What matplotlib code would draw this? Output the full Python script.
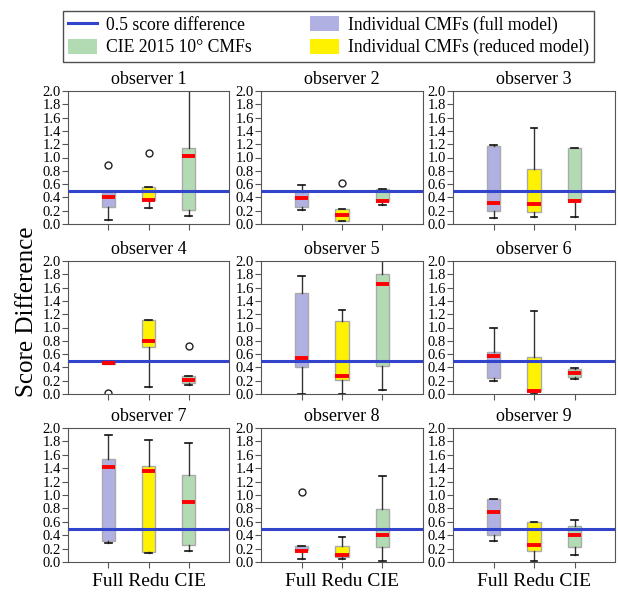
import matplotlib
matplotlib.use("Agg")
import matplotlib.pyplot as plt
from matplotlib.patches import Patch
from matplotlib.lines import Line2D

plt.rcParams['font.family'] = ['Liberation Serif', 'DejaVu Serif']

observers = [f"observer {i}" for i in range(1, 10)]
models = ["Full", "Redu", "CIE"]

# per observer: [Full, Redu, CIE]
q1 = [[0.25, 0.36, 0.21], [0.25, 0.04, 0.35], [0.19, 0.18, 0.35],
      [0.45, 0.70, 0.16], [0.41, 0.21, 0.42], [0.24, 0.05, 0.26],
      [0.32, 0.15, 0.26], [0.18, 0.07, 0.23], [0.40, 0.16, 0.23]]
med = [[0.41, 0.36, 1.02], [0.39, 0.14, 0.35], [0.32, 0.30, 0.34],
       [0.47, 0.79, 0.21], [0.54, 0.27, 1.65], [0.57, 0.05, 0.31],
       [1.42, 1.36, 0.89], [0.17, 0.10, 0.40], [0.75, 0.25, 0.40]]
q3 = [[0.48, 0.56, 1.15], [0.48, 0.22, 0.52], [1.18, 0.82, 1.15],
      [0.48, 1.12, 0.27], [1.52, 1.10, 1.81], [0.63, 0.55, 0.38],
      [1.54, 1.43, 1.30], [0.24, 0.24, 0.79], [0.94, 0.59, 0.54]]
whislo = [[0.06, 0.24, 0.12], [0.21, 0.04, 0.29], [0.09, 0.10, 0.10],
          [0.45, 0.10, 0.13], [0.00, 0.00, 0.06], [0.20, 0.00, 0.22],
          [0.28, 0.14, 0.16], [0.04, 0.04, 0.02], [0.31, 0.02, 0.10]]
whishi = [[0.48, 0.56, 2.10], [0.59, 0.22, 0.52], [1.19, 1.44, 1.15],
          [0.48, 1.12, 0.27], [1.77, 1.27, 2.10], [1.00, 1.25, 0.39],
          [1.89, 1.82, 1.77], [0.24, 0.37, 1.28], [0.94, 0.59, 0.62]]
fliers = [[[0.89], [1.07], []], [[], [0.61], []], [[], [], []],
          [[0.02], [], [0.72]], [[], [], []], [[], [], []],
          [[], [], []], [[1.04], [], []], [[], [], []]]

threshold = 0.5
box_colors = ["#b0b0e2", "#fff200", "#b3dbb3"]
line_color = "#3344cc"

fig = plt.figure(figsize=(6.18, 5.94), dpi=100)
W, H = 618, 594
col_x = [(68, 229), (261, 423), (453, 615)]
row_y = [(91, 224), (261, 394), (428, 562)]

for i in range(9):
    r, c = divmod(i, 3)
    x0, x1 = col_x[c]
    y0, y1 = row_y[r]
    ax = fig.add_axes([x0 / W, 1 - y1 / H, (x1 - x0) / W, (y1 - y0) / H])
    stats = []
    for j in range(3):
        stats.append(dict(med=med[i][j], q1=q1[i][j], q3=q3[i][j],
                          whislo=whislo[i][j], whishi=whishi[i][j],
                          fliers=fliers[i][j]))
    ax.axhline(threshold, color=line_color, lw=2.2, zorder=3)
    bp = ax.bxp(stats, positions=[1, 2, 3], widths=0.33, patch_artist=True,
                showfliers=True,
                boxprops=dict(edgecolor="#aaaaaa", linewidth=1),
                medianprops=dict(color="#ff0000", linewidth=2.8),
                whiskerprops=dict(color="#333333", linewidth=1),
                capprops=dict(color="#111111", linewidth=1.2),
                flierprops=dict(marker="o", markerfacecolor="none",
                                markeredgecolor="#222222", markersize=5))
    for patch, col in zip(bp["boxes"], box_colors):
        patch.set_facecolor(col)
    for m in bp["medians"]:
        m.set_zorder(4)
    ax.set_xlim(0, 4)
    ax.set_ylim(0, 2.0)
    ax.set_yticks([k / 10 for k in range(0, 21, 2)])
    ax.set_yticklabels([f"{k / 10:.1f}" for k in range(0, 21, 2)], fontsize=10.5)
    ax.set_xticks([1, 2, 3])
    ax.set_xticklabels([])
    ax.tick_params(axis="both", length=4, width=0.8, color="#555555", pad=1)
    for s in ax.spines.values():
        s.set_color("#555555")
    ax.set_title(observers[i], fontsize=13, pad=5)
    if r == 2:
        ax.set_xlabel(" ".join(models), fontsize=14, labelpad=3)

fig.text(27 / W, 1 - 312 / H, "Score Difference", rotation=90,
         ha="center", va="center", fontsize=18)

handles = [Line2D([0], [0], color=line_color, lw=2.2),
           Patch(facecolor=box_colors[2]),
           Patch(facecolor=box_colors[0]),
           Patch(facecolor=box_colors[1])]
labels = ["0.5 score difference", "CIE 2015 10° CMFs",
          "Individual CMFs (full model)", "Individual CMFs (reduced model)"]
leg = fig.legend(handles, labels, ncol=2, loc="upper left",
                 bbox_to_anchor=(63 / W, 1 - 10.5 / H), borderaxespad=0,
                 fontsize=12.7, frameon=True, fancybox=False,
                 edgecolor="#222222", handlelength=1.65, handleheight=0.9,
                 columnspacing=3.3, borderpad=0.3, labelspacing=0.3,
                 handletextpad=0.5)
leg.get_frame().set_linewidth(1.0)

fig.savefig("out.png", dpi=100)
